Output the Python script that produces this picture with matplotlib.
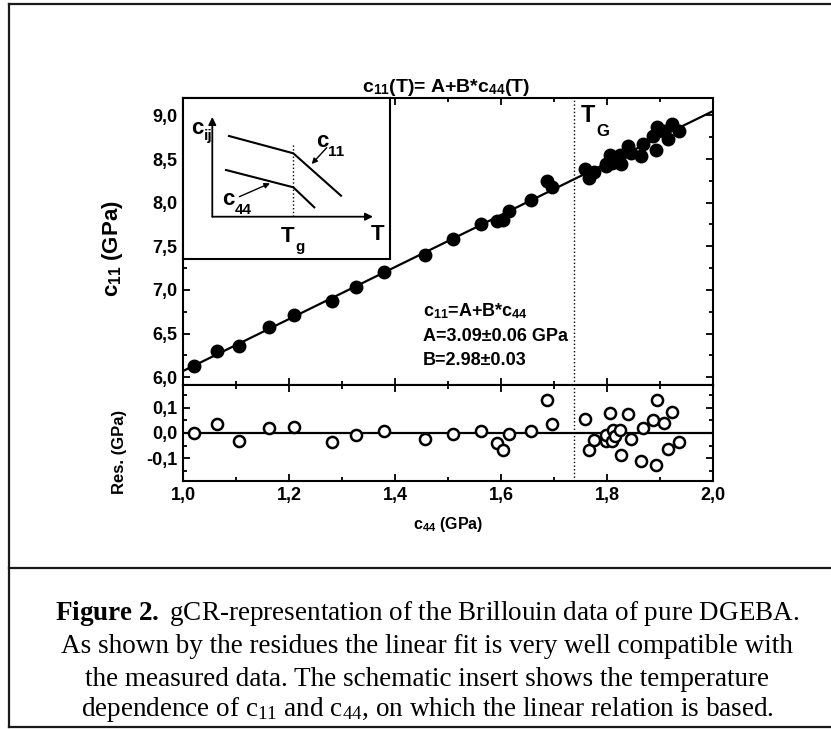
import matplotlib
matplotlib.use('Agg')
import matplotlib.pyplot as plt
from matplotlib.ticker import MultipleLocator, FuncFormatter
from matplotlib.lines import Line2D
import numpy as np

plt.rcParams['font.family'] = ['Liberation Sans', 'DejaVu Sans']
plt.rcParams['mathtext.fontset'] = 'custom'
plt.rcParams['mathtext.rm'] = 'Liberation Serif'
plt.rcParams['mathtext.bf'] = 'Liberation Serif:bold'
plt.rcParams['mathtext.sf'] = 'Liberation Sans:bold'
plt.rcParams['mathtext.it'] = 'Liberation Serif:italic'

# ---------------- data ----------------
c44 = [1.021, 1.065, 1.105, 1.162, 1.209, 1.282, 1.326, 1.379, 1.456, 1.509,
       1.562, 1.592, 1.603, 1.615, 1.657, 1.686, 1.696,
       1.758, 1.766, 1.776, 1.799, 1.799, 1.806, 1.809, 1.812, 1.815, 1.825,
       1.826, 1.840, 1.845, 1.864, 1.867, 1.887, 1.892, 1.894, 1.908, 1.915,
       1.923, 1.936]
c11 = [6.133, 6.301, 6.353, 6.571, 6.715, 6.873, 7.034, 7.205, 7.404, 7.584,
       7.751, 7.793, 7.800, 7.900, 8.034, 8.243, 8.178,
       8.386, 8.286, 8.355, 8.418, 8.444, 8.551, 8.450, 8.500, 8.486, 8.542,
       8.445, 8.649, 8.564, 8.536, 8.674, 8.763, 8.603, 8.863, 8.816, 8.734,
       8.904, 8.823]
res = [0.000, 0.037, -0.030, 0.018, 0.022, -0.037, -0.008, 0.006, -0.025, -0.003,
       0.006, -0.041, -0.067, -0.003, 0.006, 0.129, 0.034,
       0.057, -0.067, -0.028, -0.033, -0.007, 0.079, -0.031, 0.010, -0.013, 0.013,
       -0.087, 0.076, -0.024, -0.109, 0.020, 0.050, -0.125, 0.129, 0.040, -0.063,
       0.083, -0.036]
fit_A = 3.09
fit_B = 2.98
fit_x = [1.0, 2.0]
T_G = 1.738

x_ticks = [1.0, 1.2, 1.4, 1.6, 1.8, 2.0]
y_ticks = [6.0, 6.5, 7.0, 7.5, 8.0, 8.5, 9.0]
r_ticks = [-0.1, 0.0, 0.1]

# schematic insert (arbitrary units)
ins_c11_T = [46, 110.3, 158]
ins_c11_v = [38, 55.3, 97.7]
ins_c44_T = [43, 110.3, 131.3]
ins_c44_v = [72, 89.3, 109.3]
ins_Tg = 110.3

# ---------------- figure ----------------
W, H = 831, 729
fig = plt.figure(figsize=(W / 100, H / 100), dpi=100)


def pxa(x0, y0, x1, y1):
    return [x0 / W, 1 - y1 / H, (x1 - x0) / W, (y1 - y0) / H]


def ftext(x, y, s, **kw):
    return fig.text(x / W, 1 - y / H, s, **kw)


def fmt(v, p):
    s = f'{v:.1f}'
    if s == '-0.0':
        s = '0.0'
    return s.replace('.', ',')


ax = fig.add_axes(pxa(183, 98, 713, 385))
axr = fig.add_axes(pxa(183, 385, 713, 481), sharex=ax)

fx = np.array(fit_x)
ax.plot(fx, fit_A + fit_B * fx, color='k', lw=1.6, zorder=2)
ax.plot(c44, c11, 'o', ms=9, color='k', zorder=3)
ax.axvline(T_G, ls=':', lw=1.0, color='k', zorder=1)

axr.axhline(0, color='k', lw=1.6, zorder=2)
axr.plot(c44, res, 'o', ms=8, mfc='white', mec='k', mew=1.8, zorder=3)
axr.axvline(T_G, ls=':', lw=1.0, color='k', zorder=1)

ax.set_xlim(1.0, 2.0)
ax.set_ylim(5.91, 9.2)
axr.set_ylim(-0.19, 0.19)

for a in (ax, axr):
    for s in a.spines.values():
        s.set_linewidth(1.5)
    a.tick_params(which='both', direction='in', top=True, right=True,
                  labelsize=13, width=1.3, pad=4)
    a.tick_params(which='major', length=5)
    a.tick_params(which='minor', length=3)
    a.xaxis.set_minor_locator(MultipleLocator(0.1))
    a.yaxis.set_major_formatter(FuncFormatter(fmt))

ax.set_xticks(x_ticks)
ax.set_yticks(y_ticks)
ax.yaxis.set_minor_locator(MultipleLocator(0.25))
ax.tick_params(labelbottom=False)
axr.set_yticks(r_ticks)
axr.yaxis.set_minor_locator(MultipleLocator(0.05))
axr.xaxis.set_major_formatter(FuncFormatter(fmt))
for lab in ax.get_yticklabels() + axr.get_yticklabels() + axr.get_xticklabels():
    lab.set_fontweight('bold')

ax.set_ylabel(r'c$_{\mathsf{11}}$ (GPa)', fontsize=16, fontweight='bold')
ax.yaxis.set_label_coords((125 - 183) / 530, (385 - 249) / 287)
axr.set_ylabel('Res. (GPa)', fontsize=12, fontweight='bold')
axr.yaxis.set_label_coords((127 - 183) / 530, (481 - 452) / 96)
axr.set_xlabel(r'c$_{\mathsf{44}}$ (GPa)', fontsize=11.5, fontweight='bold', va='center')
axr.xaxis.set_label_coords(0.5, (481 - 524) / 96)

# title
ftext(446, 92, r'c$_{\mathsf{11}}$(T)= A+B*c$_{\mathsf{44}}$(T)', ha='center',
      va='baseline', fontsize=14, fontweight='bold')

# T_G label
ftext(581, 122, 'T', ha='left', va='baseline', fontsize=17, fontweight='bold')
ftext(596, 136, 'G', ha='left', va='baseline', fontsize=12, fontweight='bold')

# fit annotation
ftext(423, 316, r'c$_{\mathsf{11}}$=A+B*c$_{\mathsf{44}}$', ha='left', va='baseline',
      fontsize=13, fontweight='bold')
ftext(423, 341, 'A=3.09\u00b10.06 GPa', ha='left', va='baseline', fontsize=13,
      fontweight='bold')
ftext(423, 365, 'B=2.98\u00b10.03', ha='left', va='baseline', fontsize=13,
      fontweight='bold')

# ---------------- insert ----------------
ai = fig.add_axes(pxa(183, 98, 390, 259))
ai.set_zorder(5)
ai.set_xlim(0, 207)
ai.set_ylim(161, 0)
ai.set_xticks([])
ai.set_yticks([])
for s in ai.spines.values():
    s.set_linewidth(1.5)
ai.plot(ins_c11_T, ins_c11_v, color='k', lw=1.5)
ai.plot(ins_c44_T, ins_c44_v, color='k', lw=1.5)
ai.plot([ins_Tg, ins_Tg], [47, 118.7], ls=':', color='k', lw=1.0)
arr = dict(arrowstyle='-|>', color='k', lw=1.3, mutation_scale=11, shrinkA=0, shrinkB=0)
ai.annotate('', xy=(29.3, 19), xytext=(29.3, 118.7), arrowprops=arr)
ai.annotate('', xy=(190, 118.7), xytext=(29.3, 118.7), arrowprops=arr)
arr2 = dict(arrowstyle='-|>', color='k', lw=1.0, mutation_scale=8, shrinkA=0, shrinkB=0)
ai.annotate('', xy=(128.7, 66), xytext=(143.7, 49.7), arrowprops=arr2)
ai.annotate('', xy=(87, 85.3), xytext=(56.3, 98.7), arrowprops=arr2)
tk = dict(fontweight='bold', va='baseline')
ai.text(8, 36, 'c', fontsize=16, **tk)
ai.text(20.5, 42, 'ij', fontsize=11, **tk)
ai.text(133, 49, 'c', fontsize=16, **tk)
ai.text(145, 58, '11', fontsize=11, **tk)
ai.text(39, 107, 'c', fontsize=16, **tk)
ai.text(51.5, 116, '44', fontsize=11, **tk)
ai.text(98, 143.5, 'T', fontsize=16, **tk)
ai.text(112, 153, 'g', fontsize=11, **tk)
ai.text(188, 141.5, 'T', fontsize=16, **tk)

# ---------------- frame & caption ----------------
lk = dict(transform=fig.transFigure, color='#1a1a1a', lw=1.6)
fig.add_artist(Line2D([9 / W, 9 / W], [1 - 4 / H, 1 - 727 / H], **lk))
fig.add_artist(Line2D([9 / W, 1], [1 - 4 / H, 1 - 4 / H], **lk))
fig.add_artist(Line2D([9 / W, 1], [1 - 568 / H, 1 - 568 / H], **lk))
fig.add_artist(Line2D([9 / W, 1], [1 - 727 / H, 1 - 727 / H], **lk))

cap = dict(ha='center', va='baseline', fontsize=19.5, family='Liberation Serif')
ftext(427, 620, r'$\mathbf{Figure\ 2.}$ gCR-representation of the Brillouin data of pure DGEBA.', **cap)
ftext(427, 653, 'As shown by the residues the linear fit is very well compatible with', **cap)
ftext(427, 686, 'the measured data. The schematic insert shows the temperature', **cap)
ftext(427, 716, r'dependence of c$_{11}$ and c$_{44}$, on which the linear relation is based.', **cap)

fig.savefig('out.png', dpi=100)
